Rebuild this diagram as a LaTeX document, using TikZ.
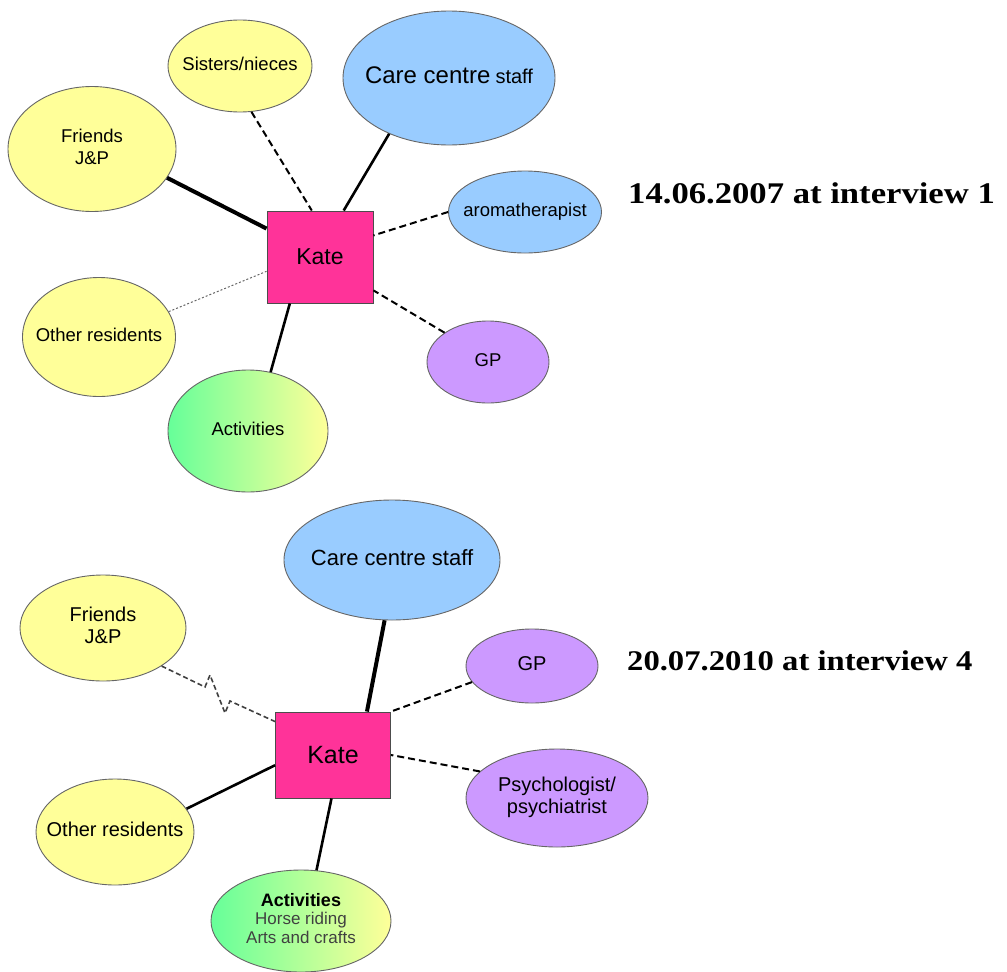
\documentclass[tikz,border=0pt]{standalone}
\usepackage{fontspec}
\setmainfont{Liberation Sans}
\newfontfamily\titlefont{Liberation Serif}
\usetikzlibrary{shapes.geometric}
\definecolor{palyellow}{RGB}{255,255,153}
\definecolor{palblue}{RGB}{153,204,255}
\definecolor{palpurple}{RGB}{204,153,255}
\definecolor{katepink}{RGB}{255,51,153}
\definecolor{actgreen}{RGB}{102,255,153}
% text that does not widen its ellipse
\newcommand{\inbox}[1]{\makebox[0pt]{\begin{tabular}{@{}c@{}}#1\end{tabular}}}

\begin{document}
\begin{tikzpicture}[x=1pt,y=-1pt,
  bubble/.style={ellipse,draw=black!60,line width=0.9pt,inner sep=0pt,
    font=\fontsize{18.5}{22}\selectfont},
  kin/.style={bubble,fill=palyellow},
  staff/.style={bubble,fill=palblue},
  medic/.style={bubble,fill=palpurple},
  act/.style={bubble,left color=actgreen,right color=palyellow},
  kate/.style={rectangle,draw=black!70,line width=0.9pt,fill=katepink,inner sep=0pt},
  tiethick/.style={line width=4pt},
  tiesolid/.style={line width=2.6pt},
  tiedash/.style={line width=2pt,dash pattern=on 7pt off 4pt},
  tiedot/.style={line width=1pt,black!60,dash pattern=on 2pt off 2pt},
  tiebroken/.style={line width=1.6pt,black!75,dash pattern=on 5pt off 3pt},
  datelabel/.style={anchor=base west,inner sep=0pt}]
  \useasboundingbox (0,0) rectangle (1007,972);

  % 2007
  \node[kate,minimum width=106,minimum height=92,font=\fontsize{23}{26}\selectfont] (kateT) at (320,257) {Kate};
  \node[kin,minimum width=144,minimum height=92] (sistersT) at (240,66) {\inbox{Sisters/nieces}};
  \node[staff,minimum width=212,minimum height=134] (careT) at (449,78)
    {\inbox{{\fontsize{24}{28}\selectfont Care centre} {\fontsize{20}{24}\selectfont staff}}};
  \node[kin,minimum width=168,minimum height=125] (friendsT) at (92,149) {\inbox{Friends\\J\&P}};
  \node[staff,minimum width=153,minimum height=82] (aromaT) at (525,212) {\inbox{aromatherapist}};
  \node[kin,minimum width=153,minimum height=119] (othersT) at (99,337) {\inbox{Other residents}};
  \node[medic,minimum width=122,minimum height=82] (gpT) at (488,362) {\inbox{GP}};
  \node[act,minimum width=160,minimum height=122] (activT) at (248,431) {\inbox{Activities}};
  \node[datelabel,font=\titlefont\bfseries\fontsize{30}{34}\selectfont] (dateT) at (628,203)
    {\scalebox{1.155}[1]{14.06.2007 at interview 1}};

  \draw[tiethick] (friendsT.339) -- (kateT.152);
  \draw[tiedash] (sistersT.284) -- (kateT.100);
  \draw[tiesolid] (careT.223) -- (kateT.63);
  \draw[tiedash] (aromaT.west) -- (kateT.22);
  \draw[tiedot] (othersT.20) -- (kateT.195);
  \draw[tiedash] (gpT.146) -- (kateT.328);
  \draw[tiesolid] (activT.69) -- (kateT.237);

  % 2010
  \begin{scope}[bubble/.append style={font=\fontsize{20}{22}\selectfont}]
  \node[kate,minimum width=115,minimum height=86,font=\fontsize{25}{28}\selectfont] (kateB) at (333,755) {Kate};
  \node[staff,minimum width=216,minimum height=120,font=\fontsize{22}{26}\selectfont] (careB) at (392,560) {\inbox{Care centre staff}};
  \node[kin,minimum width=166,minimum height=106] (friendsB) at (103,628) {\inbox{Friends\\J\&P}};
  \node[medic,minimum width=132,minimum height=74] (gpB) at (532,666) {\inbox{GP}};
  \node[medic,minimum width=182,minimum height=98] (psychB) at (557,798) {\inbox{Psychologist/\\psychiatrist}};
  \node[kin,minimum width=158,minimum height=106] (othersB) at (115,832) {\inbox{Other residents}};
  \node[act,minimum width=180,minimum height=102,font=\fontsize{17}{18.5}\selectfont] (activB) at (301,921)
    {\inbox{{\bfseries\fontsize{18}{18.5}\selectfont Activities}\\\textcolor{black!75}{Horse riding}\\\textcolor{black!75}{Arts and crafts}}};
  \end{scope}
  \node[datelabel,font=\titlefont\bfseries\fontsize{28.5}{32}\selectfont] (dateB) at (627,670)
    {\scalebox{1.145}[1]{20.07.2010 at interview 4}};

  \draw[tiethick] (careB.263) -- (kateB.52);
  \draw[tiedash] (gpB.195) -- (kateB.north east);
  \draw[tiedash] (psychB.161) -- (kateB.east);
  \draw[tiesolid] (othersB.18) -- (kateB.190);
  \draw[tiesolid] (activB.73) -- (kateB.268);
  % broken tie
  \draw[tiebroken] (friendsB.327) -- (205,687) -- (210,675) -- (225,713) -- (230,701) -- (kateB.150);
\end{tikzpicture}
\end{document}
